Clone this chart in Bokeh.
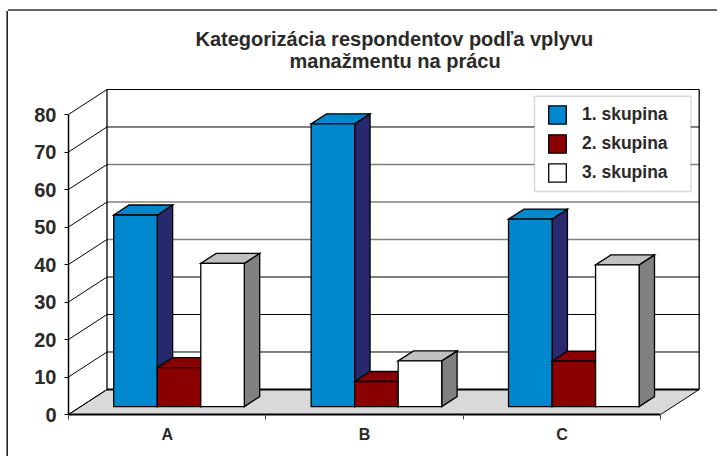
from bokeh.embed import file_html
from bokeh.resources import INLINE
from bokeh.plotting import figure
from bokeh.models import (Range1d, LinearAxis, FixedTicker, BoxAnnotation, Legend, LegendItem, Title)

TITLE_LINES = ["Kategorizácia respondentov podľa vplyvu", "manažmentu na prácu"]
CATEGORIES = ["A", "B", "C"]
SERIES = ["1. skupina", "2. skupina", "3. skupina"]
VAL_1 = [51.1, 75.4, 50.0]
VAL_2 = [10.4, 6.7, 12.1]
VAL_3 = [38.2, 12.2, 37.8]
Y_TICKS = [0, 10, 20, 30, 40, 50, 60, 70, 80]
FRONT = ["#0088cf", "#8a0000", "#ffffff"]
TOP = ["#0088cf", "#8a0000", "#c0c0c0"]
SIDE = ["#28286e", "#28286e", "#808080"]
GRID_GREY = [40, 50, 60]

# projection in data units
DX, DY = 0.195, 6.67      # wall depth
Z0, Z1 = 0.315, 0.715     # bar front / back plane
GAP, BW = 0.1677, 0.2205

FONT = "Liberation Sans"
INK = "#2b2a29"

FL, FT, FW, FH = 60, 77, 632, 326
W, H = 709, 445
p = figure(width=W, height=H, output_backend="svg", toolbar_location=None, title=None,
           x_range=Range1d(0, FW / 197.4), y_range=Range1d(0, FH / 3.75),
           x_axis_type=None, y_axis_type=None,
           min_border_left=FL, min_border_top=FT, min_border_right=W - FL - FW,
           min_border_bottom=H - FT - FH, frame_width=FW, frame_height=FH,
           background_fill_color="white", border_fill_color="white", outline_line_color=None)
p.styles = {"position": "absolute", "left": "8px", "top": "11px",
            "box-shadow": "-1.6px 0 0 #222222, 0 -2px 0 #666666"}
p.grid.visible = False

n = len(CATEGORIES)
top_y = 80 + DY
# floor
p.patch([0, n, n + DX, DX], [0, 0, DY, DY], fill_color="#d9d9d9", line_color="black", line_width=1)
# back wall gridlines
for t in Y_TICKS[1:]:
    grey = t in GRID_GREY
    c, w = ("#808080", 1.6) if grey else ("black", 1)
    p.line([DX, n + DX], [t + DY, t + DY], line_color=c, line_width=w)
# side wall lines
for t in Y_TICKS:
    p.line([0, DX], [t, t + DY], line_color="black", line_width=1)
p.line([DX, DX], [DY, top_y], line_color="black", line_width=1.3)
p.line([n + DX, n + DX], [DY, top_y], line_color="black", line_width=1.3)
p.line([DX, n + DX], [DY, DY], line_color="black", line_width=2)

items = []
for j, vals in enumerate([VAL_1, VAL_2, VAL_3]):
    xs_side, ys_side, xs_top, ys_top, l, r, b, t_ = [], [], [], [], [], [], [], []
    for i, v in enumerate(vals):
        x0 = i + GAP + j * BW + Z0 * DX
        x1 = x0 + BW
        y0 = Z0 * DY
        y1 = v + Z0 * DY
        ox = (Z1 - Z0) * DX
        oy = (Z1 - Z0) * DY
        xs_side.append([x1, x1 + ox, x1 + ox, x1])
        ys_side.append([y0, y0 + oy, y1 + oy, y1])
        xs_top.append([x0, x0 + ox, x1 + ox, x1])
        ys_top.append([y1, y1 + oy, y1 + oy, y1])
        l.append(x0); r.append(x1); b.append(y0); t_.append(y1)
    p.patches(xs_side, ys_side, fill_color=SIDE[j], line_color="black", line_width=1.3, line_join="miter")
    p.patches(xs_top, ys_top, fill_color=TOP[j], line_color="black", line_width=1.3, line_join="miter")
    fr = p.quad(left=l, right=r, bottom=b, top=t_, fill_color=FRONT[j], line_color="black",
                line_width=1.3, line_join="miter")
    items.append(LegendItem(label=SERIES[j], renderers=[fr]))

# axes
ya = LinearAxis(ticker=FixedTicker(ticks=Y_TICKS), bounds=(0, 80))
ya.axis_line_color = "black"; ya.axis_line_width = 1.5
ya.major_tick_line_color = "black"; ya.major_tick_line_width = 1
ya.major_tick_out = 4; ya.major_tick_in = 0; ya.minor_tick_out = 0; ya.minor_tick_in = 0
ya.major_label_standoff = 8
ya.major_label_text_font = FONT; ya.major_label_text_font_style = "bold"
ya.major_label_text_font_size = "20px"; ya.major_label_text_color = INK
p.add_layout(ya, "left")

xa = LinearAxis(ticker=FixedTicker(ticks=[i + 0.5 for i in range(n)], minor_ticks=list(range(n + 1))), bounds=(0, n))
xa.major_label_overrides = {i + 0.5: c for i, c in enumerate(CATEGORIES)}
xa.axis_line_color = "black"; xa.axis_line_width = 2
xa.major_tick_line_color = None
xa.major_tick_out = 0; xa.major_tick_in = 0
xa.minor_tick_line_color = "#404040"; xa.minor_tick_line_width = 1
xa.minor_tick_out = 5; xa.minor_tick_in = 0
xa.major_label_standoff = 6
xa.major_label_text_font = FONT; xa.major_label_text_font_style = "bold"
xa.major_label_text_font_size = "16px"; xa.major_label_text_color = INK
p.add_layout(xa, "below")

# legend box (screen units count from the frame's lower left) + legend
p.add_layout(BoxAnnotation(left=466, right=622.3, bottom=223, top=318.3,
                           left_units="screen", right_units="screen", top_units="screen", bottom_units="screen",
                           fill_color="white", fill_alpha=1, line_color="#808080", line_width=1.5))
lg = Legend(items=items, location=(478, 230), padding=0, margin=0, spacing=6, glyph_width=22, glyph_height=23,
            label_standoff=14, border_line_color=None, background_fill_alpha=0,
            label_text_font=FONT, label_text_font_style="bold", label_text_font_size="17.5px",
            label_text_color=INK)
p.add_layout(lg, "center")

# title lines stacked upward from the frame; a tiny blank title keeps them clear of it
p.add_layout(Title(text=" ", text_font_size="1px", standoff=16), "above")
for txt, off, st in [(TITLE_LINES[1], 221, -4), (TITLE_LINES[0], 127, 0)]:
    p.add_layout(Title(text=txt, align="left", offset=off, standoff=st, text_font=FONT, text_font_style="bold",
                       text_font_size="20px", text_color=INK), "above")

open("out.html", "w").write(file_html(p, INLINE))
